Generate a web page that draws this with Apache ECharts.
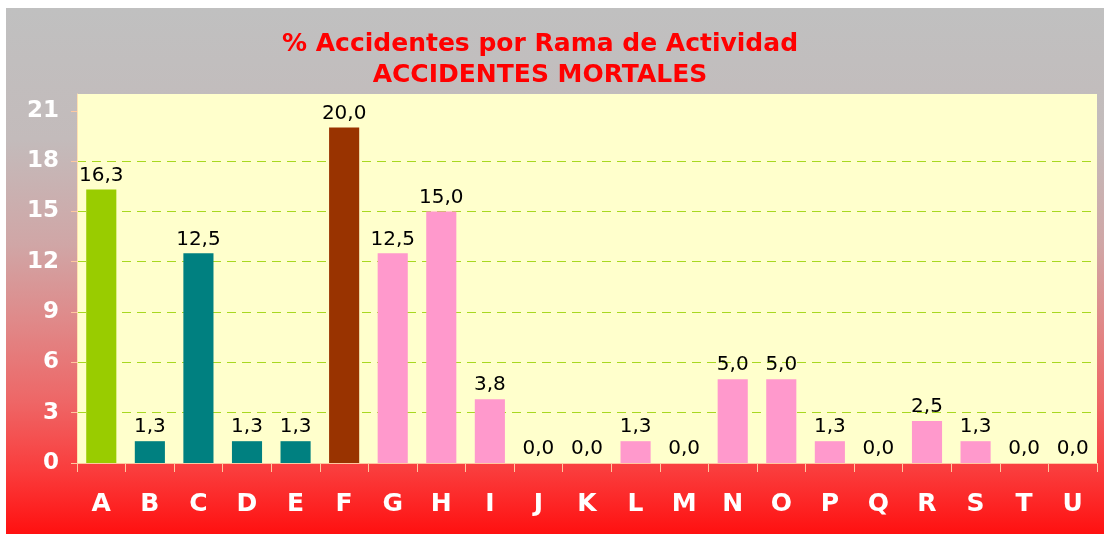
<!DOCTYPE html>
<html>
<head>
<meta charset="utf-8">
<script src="https://cdn.jsdelivr.net/npm/echarts@6/dist/echarts.min.js"></script>
<style>
  html, body { margin: 0; padding: 0; background: #fff; }
  #chart {
    position: absolute; left: 6px; top: 8px; width: 1098px; height: 526px;
    background: linear-gradient(to bottom, #c0c0c0 0%, #c3bbbb 25%, #d0a6a6 45%, #e08888 60%, #ee6666 75%, #fa3c3c 88%, #ff1010 100%);
  }
</style>
</head>
<body>
<div id="chart"></div>
<script>
// ramas de actividad
const categories = ['A', 'B', 'C', 'D', 'E', 'F', 'G', 'H', 'I', 'J', 'K', 'L', 'M', 'N', 'O', 'P', 'Q', 'R', 'S', 'T', 'U'];
const values = [16.3, 1.3, 12.5, 1.3, 1.3, 20.0, 12.5, 15.0, 3.8, 0.0, 0.0, 1.3, 0.0, 5.0, 5.0, 1.3, 0.0, 2.5, 1.3, 0.0, 0.0];
const barColors = ['#99CC00', '#008080', '#008080', '#008080', '#008080', '#993300',
  '#FF99CC', '#FF99CC', '#FF99CC', '#FF99CC', '#FF99CC', '#FF99CC', '#FF99CC', '#FF99CC',
  '#FF99CC', '#FF99CC', '#FF99CC', '#FF99CC', '#FF99CC', '#FF99CC', '#FF99CC'];
const yTicks = [0, 3, 6, 9, 12, 15, 18, 21];

const myChart = echarts.init(document.getElementById('chart'));
myChart.setOption({
  animation: false,
  title: {
    text: '% Accidentes por Rama de Actividad\nACCIDENTES MORTALES',
    left: 529,
    top: 16,
    textAlign: 'center',
    textStyle: {
      color: '#FF0000',
      fontFamily: 'DejaVu Sans',
      fontWeight: 'bold',
      fontSize: 25,
      lineHeight: 31,
    },
  },
  grid: {
    left: 71,
    top: 86,
    right: 7,
    bottom: 71,
    show: true,
    backgroundColor: '#FFFFCC',
    borderWidth: 0,
  },
  xAxis: {
    type: 'category',
    data: categories,
    axisLine: { lineStyle: { color: '#FFC8A0', width: 1 } },
    axisTick: { show: true, length: 9, alignWithLabel: false, lineStyle: { color: '#FFC8A0' } },
    axisLabel: {
      color: '#FFFFFF',
      fontFamily: 'DejaVu Sans',
      fontWeight: 'bold',
      fontSize: 25,
      margin: 29,
    },
  },
  yAxis: {
    type: 'value',
    min: 0,
    max: 22,
    interval: 3,
    axisLine: { show: true, lineStyle: { color: '#FFE0B0' } },
    axisTick: {
      show: true,
      length: 6,
      lineStyle: { color: '#FFC8A0' },
      customValues: yTicks,
    },
    axisLabel: {
      color: '#FFFFFF',
      fontFamily: 'DejaVu Sans',
      fontWeight: 'bold',
      fontSize: 23,
      margin: 18,
      formatter: v => (yTicks.indexOf(v) >= 0 ? String(v) : ''),
    },
    splitLine: {
      show: true,
      showMinLine: false,
      showMaxLine: false,
      lineStyle: { color: '#A8D820', type: [9, 6], width: 1 },
    },
  },
  series: [
    {
      type: 'bar',
      barWidth: '62%',
      data: values.map((v, i) => ({ value: v, itemStyle: { color: barColors[i] } })),
      label: {
        show: true,
        position: 'top',
        distance: 4,
        color: '#000000',
        fontFamily: 'DejaVu Sans',
        fontSize: 20,
        formatter: p => p.value.toFixed(1).replace('.', ','),
      },
    },
  ],
});
</script>
</body>
</html>
